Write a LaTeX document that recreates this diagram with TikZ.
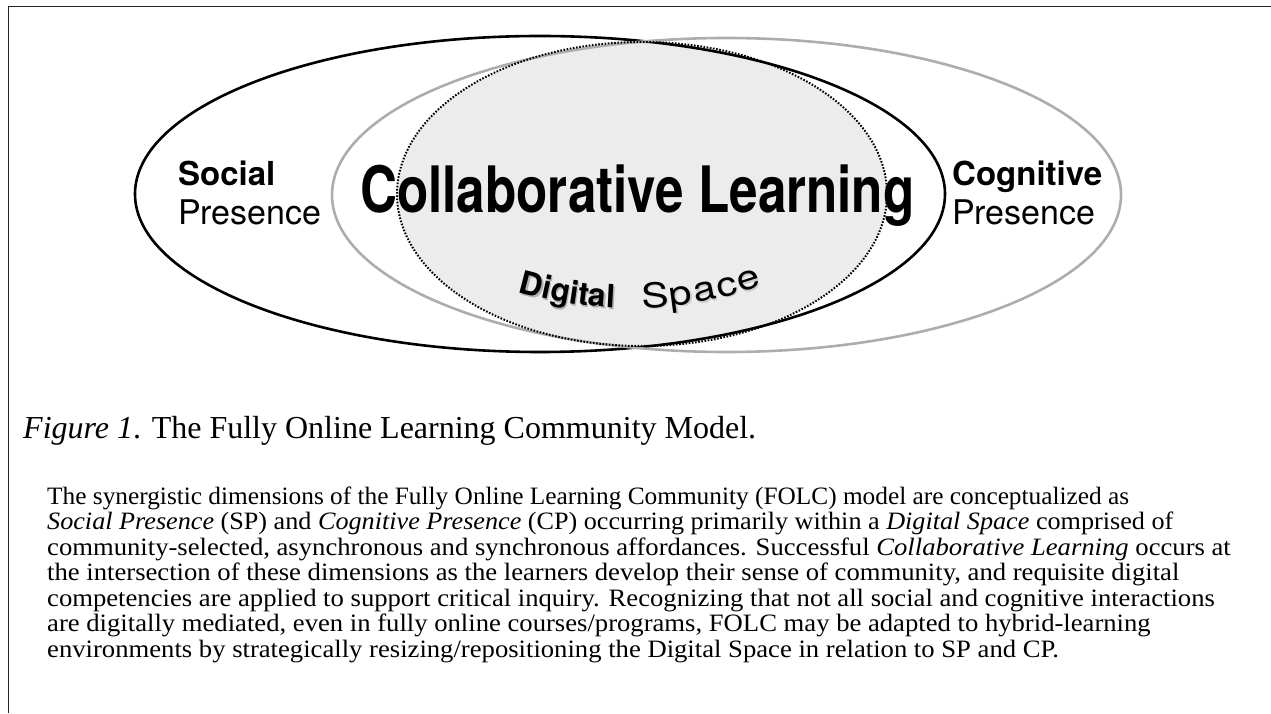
\documentclass[tikz,border=0pt]{standalone}
\usepackage{fontspec}
\setmainfont{Liberation Serif}
\newfontfamily\heros{TeX Gyre Heros}
\usetikzlibrary{calc}
\definecolor{cpgray}{RGB}{168,174,180}
\definecolor{dsfill}{RGB}{236,236,236}
\newcommand{\pl}[2][1.066]{\scalebox{#1}[1]{\fontsize{25}{25.5}\selectfont #2}}
\newcommand{\spl}[1]{\scalebox{1.2}[1]{\heros\fontsize{34}{34}\selectfont #1}}
\begin{document}
\begin{tikzpicture}[x=1pt,y=1pt,
  lbl/.style={inner sep=0pt,anchor=base west},
  ltr/.style={inner sep=0pt,anchor=base},
  shd/.style={inner sep=0pt,anchor=base,text=black!30}]
\useasboundingbox (0,0) rectangle (1271,713);
% frame
\coordinate (ftl) at (8.5,706.5);
\coordinate (ftr) at (1271,706.5);
\coordinate (fbl) at (8.5,0);
\draw[line width=1.5pt,black!85] (ftr) -- (ftl) -- (fbl);
% digital space fill
\fill[dsfill] (642,519) ellipse [x radius=245, y radius=152];
% social presence ellipse
\draw[line width=2.6pt] (540,519) ellipse [x radius=405, y radius=158];
% cognitive presence ellipse
\draw[line width=2.6pt,cpgray] (726.5,518) ellipse [x radius=394.5, y radius=157];
% digital space border
\draw[line width=2pt,dash pattern=on 1.6pt off 1.6pt] (642,519) ellipse [x radius=245, y radius=152];
% labels
\node[lbl] (soc) at (178,527) {\heros\fontsize{33}{33}\selectfont\bfseries Social};
\node[lbl] (socp) at (178,488) {\heros\fontsize{34}{34}\selectfont Presence};
\node[lbl] (cog) at (952,527) {\heros\fontsize{33}{33}\selectfont\bfseries Cognitive};
\node[lbl] (cogp) at (952,488) {\heros\fontsize{34}{34}\selectfont Presence};
\node[lbl] (cl) at (360,500) {\scalebox{0.8}[1]{\heros\fontsize{64}{64}\selectfont\bfseries Collaborative Learning}};
% Digital Space along an arc
\coordinate (arcc) at (630,805);
\foreach \s/\c [count=\i] in {-101.95/D,-85.95/i,-71.7/g,-57.45/i,-47.65/t,-33.4/a,-20.05/l}{
  \node[shd,rotate=\s/400*57.2958] (dsh\i) at ($(arcc)+(\s/400*57.2958-90:400)+(1.5,-2)$) {\heros\fontsize{32}{32}\selectfont\bfseries \c};
  \node[ltr,rotate=\s/400*57.2958] (dg\i) at ($(arcc)+(\s/400*57.2958-90:400)$) {\heros\fontsize{32}{32}\selectfont\bfseries \c};
}
\foreach \s/\c [count=\i] in {25.6/S,52.35/p,76.85/a,100.2/c,123.55/e}{
  \node[shd,rotate=\s/400*57.2958,text=black!20] (ssh\i) at ($(arcc)+(\s/400*57.2958-90:400)+(1.2,-1.6)$) {\spl{\c}};
  \node[ltr,rotate=\s/400*57.2958] (sp\i) at ($(arcc)+(\s/400*57.2958-90:400)$) {\spl{\c}};
}
% caption
\node[lbl] (cap) at (23,275) {\fontsize{32}{32}\selectfont\textit{Figure 1}. The Fully Online Learning Community Model.};
% paragraph
\node[lbl] (p1) at (47,209) {\pl[1.013]{The synergistic dimensions of the Fully Online Learning Community (FOLC) model are conceptualized as}};
\node[lbl] (p2) at (47,183.5) {\pl[1.047]{\textit{Social Presence} (SP) and \textit{Cognitive Presence} (CP) occurring primarily within a \textit{Digital Space} comprised of}};
\node[lbl] (p3) at (47,158) {\pl{community-selected, asynchronous and synchronous affordances. Successful \textit{Collaborative Learning} occurs at}};
\node[lbl] (p4) at (47,132.5) {\pl{the intersection of these dimensions as the learners develop their sense of community, and requisite digital}};
\node[lbl] (p5) at (47,107) {\pl{competencies are applied to support critical inquiry. Recognizing that not all social and cognitive interactions}};
\node[lbl] (p6) at (47,81.5) {\pl{are digitally mediated, even in fully online courses/programs, FOLC may be adapted to hybrid-learning}};
\node[lbl] (p7) at (47,56) {\pl{environments by strategically resizing/repositioning the Digital Space in relation to SP and CP.}};
\end{tikzpicture}
\end{document}
